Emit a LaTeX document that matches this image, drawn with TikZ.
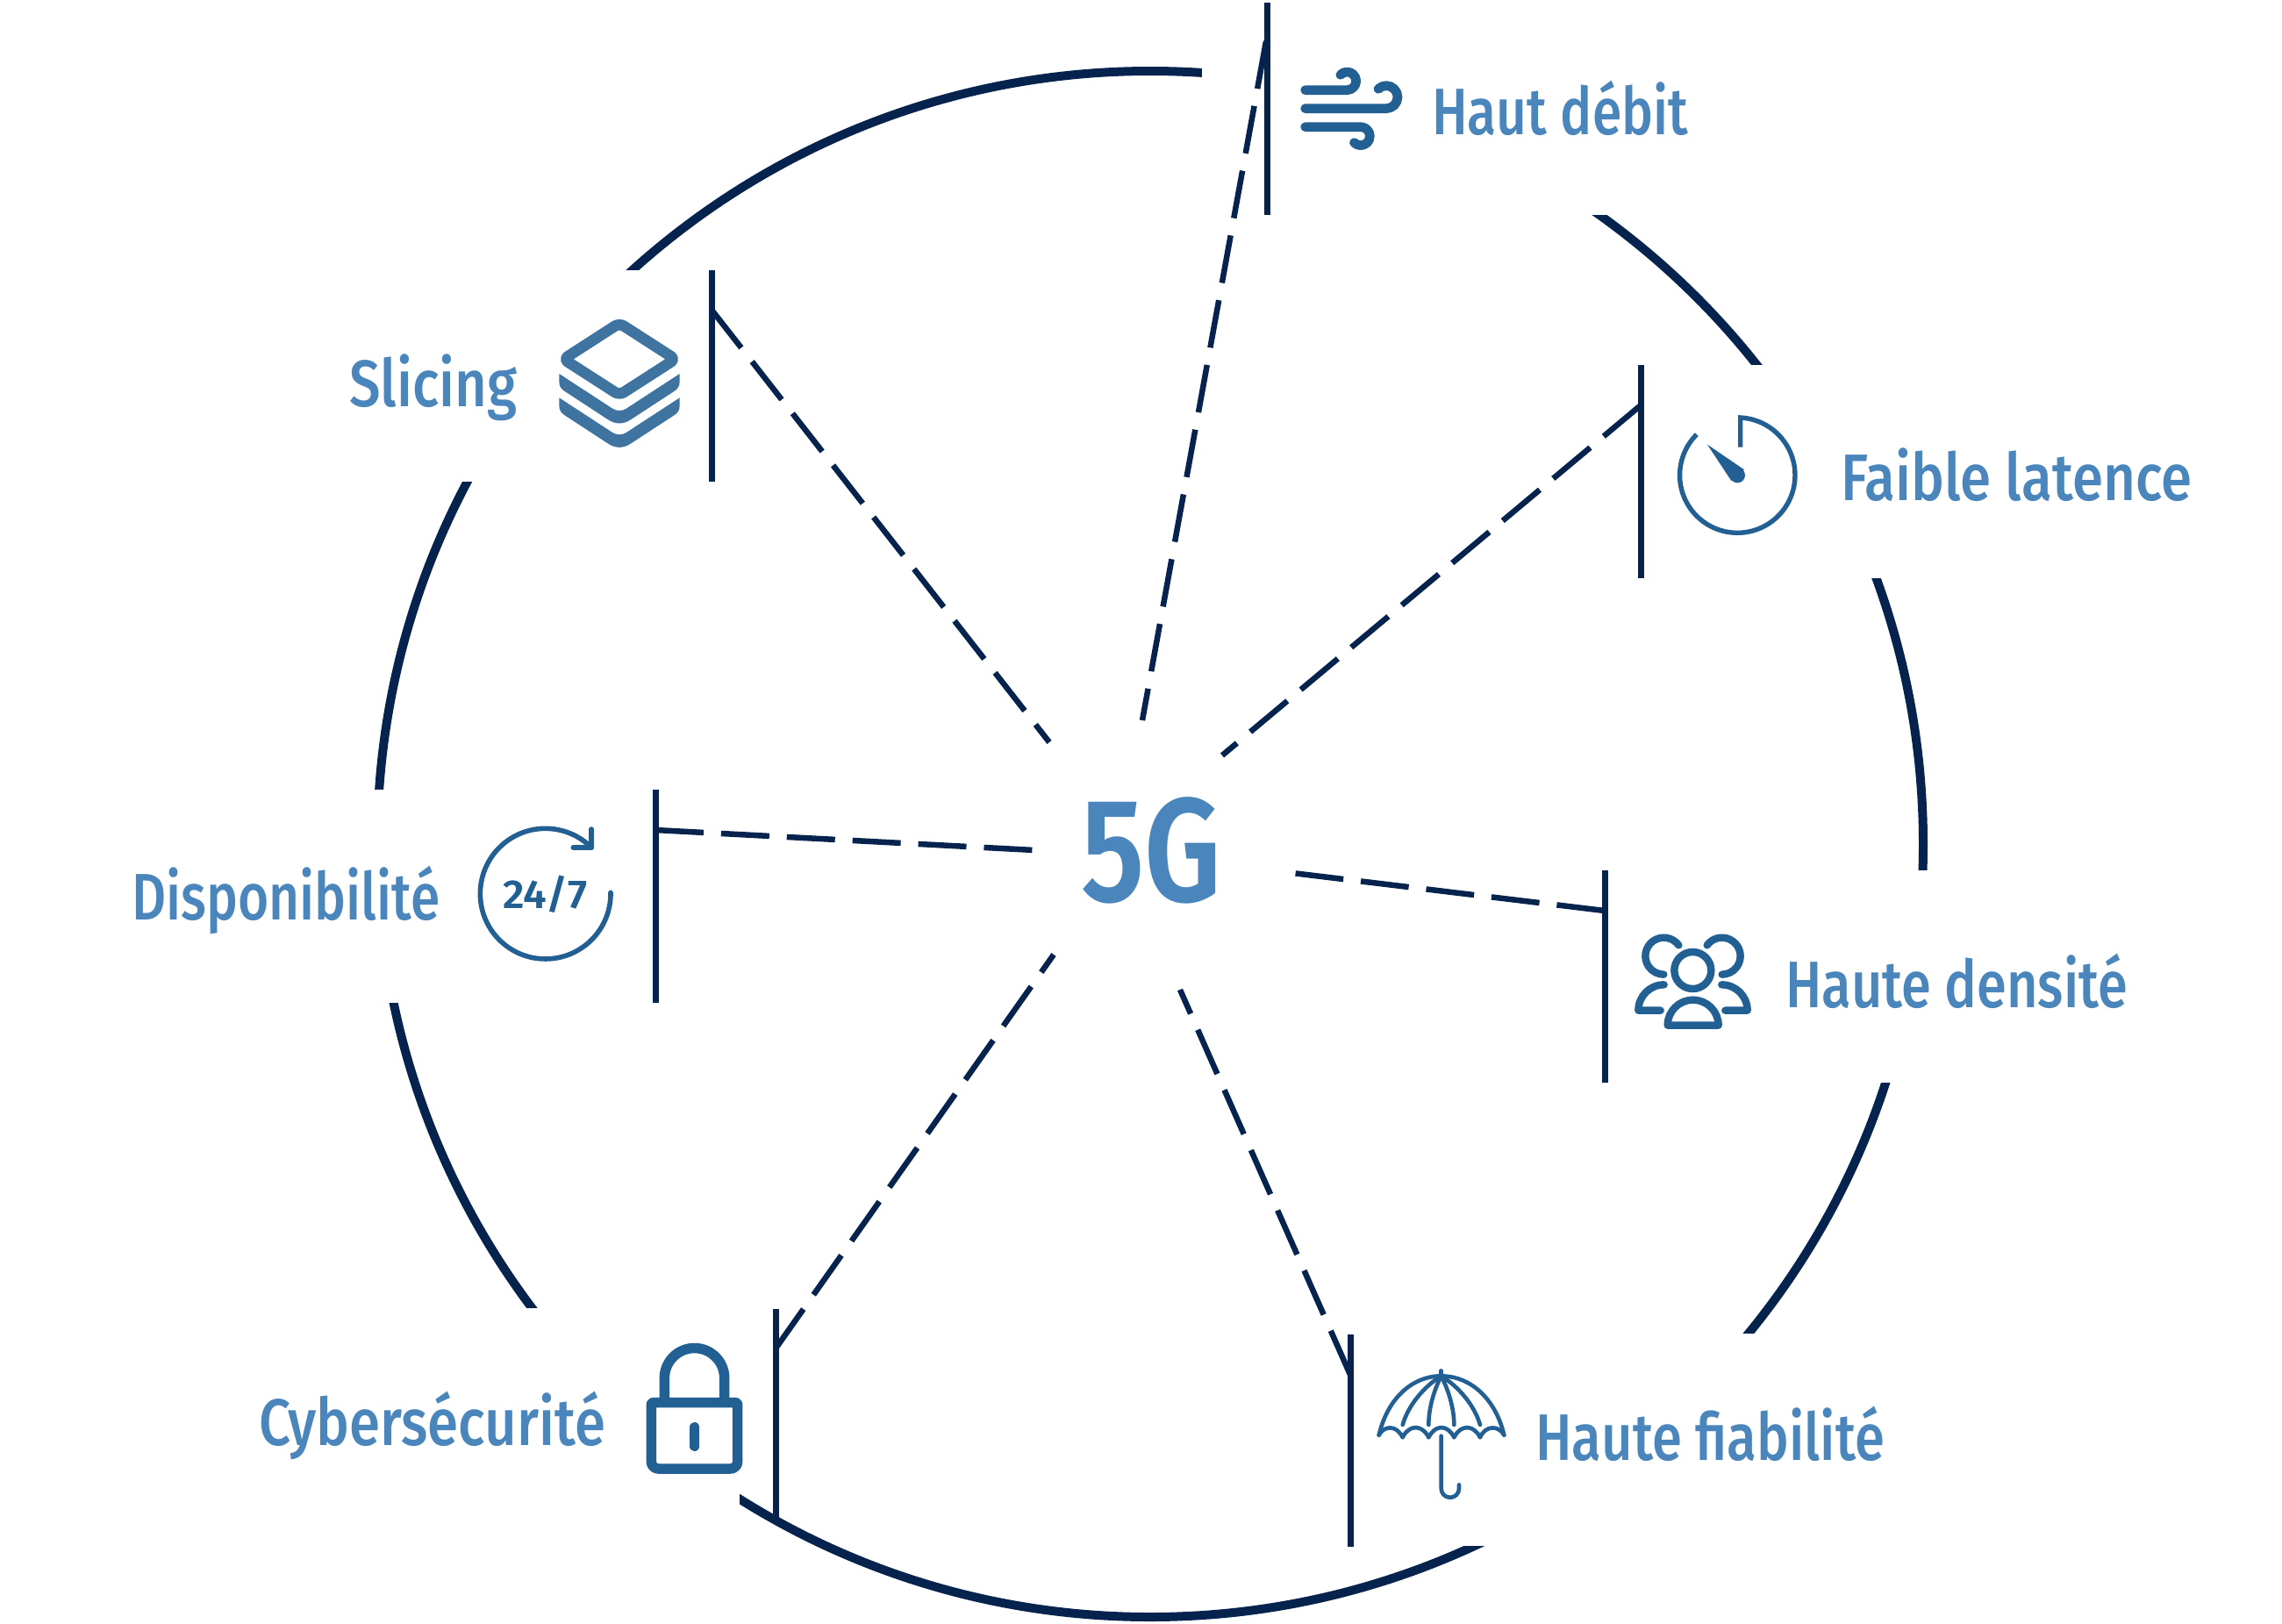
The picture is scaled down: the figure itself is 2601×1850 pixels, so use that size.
\documentclass[tikz,border=0pt]{standalone}
\usepackage{graphicx}
\usepackage{fontspec}
\setmainfont[UprightFont={* Medium},BoldFont={* SemiBold}]{Fira Sans}
\definecolor{dark}{HTML}{06234E}
\definecolor{txt}{HTML}{4A86BB}
\definecolor{ico}{HTML}{225F92}
\definecolor{stack}{HTML}{3F73A0}
\newcommand{\fitw}[2]{\resizebox{#1pt}{\height}{#2}}
\tikzset{
  ring/.style={draw=dark,line width=10pt},
  mask/.style={fill=white,draw=none},
  bar/.style={draw=dark,line width=7pt},
  spoke/.style={draw=dark,line width=6.5pt,dash pattern=on 55pt off 20pt},
  lbl/.style={text=txt,anchor=base west,inner sep=0pt,font=\fontsize{75}{75}\selectfont},
  iconline/.style={draw=ico,line width=#1,line cap=round,line join=round},
  iconflat/.style={draw=ico,line width=#1},
}
\begin{document}
\begin{tikzpicture}[x=1pt,y=1pt,yscale=-1]
\useasboundingbox (0,0) rectangle (2601,1850);
% ring with gaps
\draw[ring] (1311,962) circle[radius=881];
\fill[mask] (1370,-10) rectangle (1900,245);
\fill[mask] (1870,416) rectangle (2300,659);
\fill[mask] (1829,992) rectangle (2300,1234);
\fill[mask] (1539,1520) rectangle (2100,1762);
\fill[mask] (400,1491) rectangle (843,1860);
\fill[mask] (300,900) rectangle (747,1143);
\fill[mask] (400,308) rectangle (811,549);
% bars
\coordinate (b1t) at (1444,3); \coordinate (b1b) at (1444,245);
\coordinate (b2t) at (1870,416); \coordinate (b2b) at (1870,659);
\coordinate (b3t) at (1829,992); \coordinate (b3b) at (1829,1234);
\coordinate (b4t) at (1539,1521); \coordinate (b4b) at (1539,1763);
\coordinate (b5t) at (884,1492); \coordinate (b5b) at (884,1734);
\coordinate (b6t) at (747,900); \coordinate (b6b) at (747,1143);
\coordinate (b7t) at (811,308); \coordinate (b7b) at (811,549);
\foreach \i in {1,...,7} \draw[bar] (b\i t) -- (b\i b);
% spokes
\coordinate (s1a) at (1443,47);  \coordinate (s1b) at (1302,821);
\coordinate (s2a) at (1870,462); \coordinate (s2b) at (1393,861);
\coordinate (s3a) at (1829,1038);\coordinate (s3b) at (1473,995);
\coordinate (s4a) at (1539,1567);\coordinate (s4b) at (1345,1128);
\coordinate (s5a) at (884,1537); \coordinate (s5b) at (1201,1088);
\coordinate (s6a) at (747,946);  \coordinate (s6b) at (1179,969);
\coordinate (s7a) at (811,353);  \coordinate (s7b) at (1196,846);
\foreach \i in {1,...,7} \draw[spoke] (s\i a) -- (s\i b);
% labels
\node[lbl,font=\fontsize{168}{168}\selectfont\bfseries] (g5) at (1232,1027) {\fitw{160}{5G}};
\node[lbl] (l1) at (1632,153) {\fitw{292}{Haut débit}};
\node[lbl] (l2) at (2098,570) {\fitw{400}{Faible latence}};
\node[lbl] (l3) at (2035,1148) {\fitw{390}{Haute densité}};
\node[lbl] (l4) at (1750,1664) {\fitw{398}{Haute fiabilité}};
\node[lbl] (l5) at (295,1647) {\fitw{395}{Cybersécurité}};
\node[lbl] (l6) at (150,1048) {\fitw{351}{Disponibilité}};
\node[lbl] (l7) at (398,463) {\fitw{191}{Slicing}};
% wind
\begin{scope}[shift={(1470,60)},scale=1/3]
\draw[iconline=10.7pt] (53,128) -- (196,128) arc[start angle=90,end angle=-137,radius=31];
\draw[iconline=10.7pt] (53,191) -- (330,191) arc[start angle=90,end angle=-134,radius=39];
\draw[iconline=10.7pt] (53,254) -- (242.5,254) arc[start angle=-90,end angle=135,radius=31.5];
\end{scope}
% layers
\begin{scope}[shift={(600,280)},scale=1/3]
\draw[draw=stack,line width=12.5pt,line join=round,rounded corners=6pt] (318,265) -- (509,388) -- (318,511) -- (127,388) -- cycle;
\foreach \d in {0,82}{
\fill[stack,shift={(0,\d)}] (112,438) -- (296,558) .. controls (310,566) and (326,566) .. (340,558) -- (524,438) -- (524,465) .. controls (524,480) and (518,490) .. (505,498) -- (358,594) .. controls (332,612) and (304,612) .. (278,594) -- (131,498) .. controls (118,490) and (112,480) .. (112,465) -- cycle;
}
\end{scope}
% stopwatch
\draw[iconflat=5.4pt] (1983.7,509.5) -- (1983.7,476) arc[start angle=-87,end angle=225,radius=65.7];
\begin{scope}[shift={(1840,400)},scale=1/3]
\fill[ico] (318,320) -- (444,406) -- (400,444) -- cycle;
\fill[ico] (421,425) circle[radius=26];
\end{scope}
% people
\begin{scope}[shift={(1800,1020)},scale=1/3]
\draw[iconline=8.4pt] (388,258) circle[radius=63];
\draw[iconline=8.4pt] (302,446) arc[start angle=180,end angle=360,radius=87] -- cycle;
\draw[iconline=8.4pt] (340,172) arc[start angle=-36,end angle=-270,radius=63];
\draw[iconline=8.4pt] (437,172) arc[start angle=216,end angle=450,radius=63];
\draw[iconline=8.4pt] (290,307) arc[start angle=-90,end angle=-180,radius=88] -- (278,395);
\draw[iconline=8.4pt] (487,307) arc[start angle=-90,end angle=0,radius=88] -- (499,395);
\end{scope}
% umbrella
\begin{scope}[shift={(1520,1530)},scale=1/3]
\draw[iconline=4.6pt] (368,97) -- (368,115);
\draw[iconline=4.6pt] (155,317) .. controls (185,190) and (270,115) .. (368,115) .. controls (466,115) and (553,190) .. (583,317);
\draw[iconline=4.6pt] (155,317) .. controls (172,285) and (215,280) .. (236,325) .. controls (258,280) and (303,280) .. (325,325) .. controls (347,280) and (390,280) .. (412,325) .. controls (434,280) and (479,280) .. (501,325) .. controls (521,280) and (566,285) .. (583,317);
\draw[iconline=4.6pt] (368,115) .. controls (310,150) and (255,215) .. (236,282);
\draw[iconline=4.6pt] (368,115) .. controls (340,170) and (325,230) .. (325,282);
\draw[iconline=4.6pt] (368,115) .. controls (396,170) and (412,230) .. (412,282);
\draw[iconline=4.6pt] (368,115) .. controls (426,150) and (482,215) .. (501,282);
\draw[iconline=4.6pt] (368,320) -- (368,500) arc[start angle=180,end angle=0,radius=30.5] -- (429,487);
\end{scope}
% lock
\begin{scope}[shift={(700,1500)},scale=1/3]
\draw[iconflat=11.5pt,line join=round] (127,409) [rounded corners=2pt] -- (127,296) -- (422,296) [rounded corners=8pt] -- (422,522) -- (127,522) [sharp corners] -- cycle;
\draw[iconflat=11.5pt] (172,296) -- (172,212) arc[start angle=180,end angle=360,radius=102.5] -- (377,296);
\draw[iconline=11.5pt] (275,380) -- (275,445);
\end{scope}
% 24/7
\begin{scope}[shift={(520,900)},scale=1/3]
\draw[iconline=5.6pt] (528,352) arc[start angle=-1,end angle=315,radius=223];
\draw[iconline=5.6pt] (462,135) -- (462,198) -- (400,198);
\end{scope}
\node[anchor=base west,inner sep=0pt,text=ico,font=\fontsize{46}{46}\selectfont\bfseries] (t247) at (573,1035) {\fitw{96}{24/7}};
\end{tikzpicture}
\end{document}
